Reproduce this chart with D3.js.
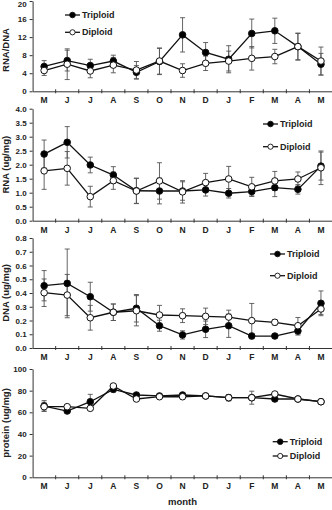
<!DOCTYPE html>
<html><head><meta charset="utf-8">
<script src="https://cdn.jsdelivr.net/npm/d3@7"></script>
<style>
html,body{margin:0;padding:0;background:#fff;}
svg{display:block;font-family:"Liberation Sans",Arial,sans-serif;font-weight:bold;}
</style></head>
<body>
<svg id="c" width="332" height="510"></svg>
<script>
const months = ["M","J","J","A","S","O","N","D","J","F","M","A","M"];

const ratioTri = [5.5,6.8,5.7,6.7,4.2,6.6,12.5,8.6,7.1,12.8,13.4,9.9,6.0];
const ratioTriErr = [1.3,2.3,1.4,1.3,1.5,2.9,3.8,2.2,3.0,3.2,2.8,2.9,2.4];
const ratioDip = [4.6,6.0,4.5,5.8,4.7,6.7,4.6,6.2,6.7,7.3,7.7,9.9,6.7];
const ratioDipErr = [1.1,3.4,1.5,1.7,1.9,2.9,1.5,1.6,2.2,2.6,1.6,3.0,3.1];

const rnaTri = [2.38,2.80,1.99,1.63,1.07,1.06,1.06,1.10,0.98,1.04,1.18,1.12,1.95];
const rnaTriErr = [0.50,0.56,0.28,0.30,0.45,0.46,0.33,0.22,0.17,0.16,0.32,0.17,0.50];
const rnaDip = [1.78,1.87,0.86,1.43,1.06,1.42,1.03,1.36,1.49,1.21,1.42,1.49,1.89];
const rnaDipErr = [0.66,0.60,0.37,0.31,0.45,0.65,0.40,0.33,0.45,0.34,0.34,0.25,0.60];

const dnaTri = [0.453,0.47,0.373,0.26,0.289,0.162,0.095,0.136,0.162,0.087,0.087,0.124,0.325];
const dnaTriErr = [0.11,0.25,0.105,0.06,0.10,0.04,0.03,0.06,0.085,0.02,0.015,0.03,0.09];
const dnaDip = [0.402,0.385,0.22,0.26,0.271,0.24,0.235,0.23,0.225,0.199,0.187,0.162,0.284];
const dnaDipErr = [0.10,0.15,0.09,0.06,0.11,0.07,0.05,0.06,0.05,0.125,0.02,0.06,0.04];

const protTri = [65.8,61.2,69.8,81.2,76.0,75.1,76.0,75.1,73.5,73.5,72.3,72.3,69.8];
const protTriErr = [5,1.5,6.8,2.5,1.5,1.5,2,1,2,2,2,1,1];
const protDip = [65.2,65.2,63.7,84.3,72.3,74.4,74.4,75.1,73.5,73.5,76.9,72.3,69.8];
const protDipErr = [4,1.5,2,2,1.5,1.5,2.5,1,3,6,1.5,1,1];

const ratioTicks = [0,4,8,12,16,20];
const rnaTicks = [0,0.5,1,1.5,2,2.5,3,3.5,4];
const dnaTicks = [0,0.1,0.2,0.3,0.4,0.5,0.6,0.7,0.8];
const protTicks = [0,20,40,60,80,100];

const panels = [
  {title:"RNA/DNA", tri:ratioTri, triE:ratioTriErr, dip:ratioDip, dipE:ratioDipErr, ticks:ratioTicks, fmt:d3.format("d"), y0:91.3, y1:1.0, lab:50, legX:65, legY:[15,32.3]},
  {title:"RNA (ug/mg)", tri:rnaTri, triE:rnaTriErr, dip:rnaDip, dipE:rnaDipErr, ticks:rnaTicks, fmt:d3.format(".1f"), y0:220.7, y1:108.7, lab:164.7, legX:263, legY:[124,146.7]},
  {title:"DNA (ug/mg)", tri:dnaTri, triE:dnaTriErr, dip:dnaDip, dipE:dnaDipErr, ticks:dnaTicks, fmt:d3.format(".1f"), y0:348, y1:238, lab:293, legX:270, legY:[254,275.7]},
  {title:"protein (ug/mg)", tri:protTri, triE:protTriErr, dip:protDip, dipE:protDipErr, ticks:protTicks, fmt:d3.format("d"), y0:477.3, y1:369, lab:423, legX:272.7, legY:[441.7,456]}
];

const svg = d3.select("#c");
const x = d3.scaleBand().domain(d3.range(months.length)).range([32.6, 332.5]);
const cx = i => x(i) + x.bandwidth()/2;

panels.forEach(p => {
  const dom = [p.ticks[0], p.ticks[p.ticks.length-1]];
  const y = d3.scaleLinear().domain(dom).range([p.y0, p.y1]);
  const g = svg.append("g");

  // y axis
  const ya = g.append("g").attr("transform","translate(32.6,0)")
    .call(d3.axisLeft(y).tickValues(p.ticks).tickFormat(p.fmt).tickSize(3).tickSizeOuter(0).tickPadding(3));
  ya.selectAll("text").attr("font-size",8).attr("font-family","Liberation Sans, Arial").attr("font-weight","bold").attr("fill","#222");
  ya.selectAll("line,path").attr("stroke","#333");
  // keep the topmost tick label inside the picture
  ya.selectAll(".tick text").filter(function(){ return y(+d3.select(this.parentNode).datum()) < 5; })
    .attr("dy","0.7em");

  // x axis
  const xa = g.append("g").attr("transform",`translate(0,${p.y0})`)
    .call(d3.axisBottom(x).tickFormat(i => months[i]).tickSize(0).tickSizeOuter(0).tickPadding(6));
  xa.select(".domain").attr("stroke","#333");
  xa.selectAll("text").attr("font-size",8.5).attr("font-family","Liberation Sans, Arial").attr("font-weight","bold").attr("fill","#222");
  g.append("g").selectAll("line").data(d3.range(1, months.length)).join("line")
    .attr("x1", i => x(i)).attr("x2", i => x(i))
    .attr("y1", p.y0-2).attr("y2", p.y0+2).attr("stroke","#333");

  // y title
  g.append("text").attr("transform",`translate(9,${p.lab}) rotate(-90)`)
    .attr("text-anchor","middle").attr("font-size",9.5).attr("fill","#222").text(p.title);

  // error bars
  const series = [{v:p.tri,e:p.triE,fill:"#000"},{v:p.dip,e:p.dipE,fill:"#fff"}];
  series.forEach(s => {
    const eg = g.append("g").attr("stroke","#555").attr("stroke-width",0.9);
    s.v.forEach((v,i) => {
      const e = s.e[i];
      eg.append("line").attr("x1",cx(i)).attr("x2",cx(i)).attr("y1",y(v-e)).attr("y2",y(v+e));
      [v-e, v+e].forEach(w => eg.append("line").attr("x1",cx(i)-2.5).attr("x2",cx(i)+2.5).attr("y1",y(w)).attr("y2",y(w)));
    });
  });
  const line = d3.line().x((d,i)=>cx(i)).y(d=>y(d));
  series.forEach(s => {
    g.append("path").datum(s.v).attr("d",line).attr("fill","none").attr("stroke","#111").attr("stroke-width",1.3);
  });
  series.forEach(s => {
    g.append("g").selectAll("circle").data(s.v).join("circle")
      .attr("cx",(d,i)=>cx(i)).attr("cy",d=>y(d)).attr("r",3.3)
      .attr("fill",s.fill).attr("stroke","#111").attr("stroke-width",1);
  });

  // legend
  ["Triploid","Diploid"].forEach((name,k) => {
    const ly = p.legY[k];
    const lg = g.append("g");
    lg.append("line").attr("x1",p.legX).attr("x2",p.legX+15).attr("y1",ly).attr("y2",ly).attr("stroke","#111").attr("stroke-width",1.3);
    lg.append("circle").attr("cx",p.legX+7.5).attr("cy",ly).attr("r",k===0?2.8:2.6)
      .attr("fill",k===0?"#000":"#fff").attr("stroke","#111").attr("stroke-width",0.9);
    lg.append("text").attr("x",p.legX+17).attr("y",ly).attr("dy","0.35em").attr("font-size",9).attr("fill","#222").text(name);
  });
});

svg.append("text").attr("x",cx(6)).attr("y",505).attr("text-anchor","middle").attr("font-size",9.5).attr("fill","#222").text("month");
</script>
</body></html>
